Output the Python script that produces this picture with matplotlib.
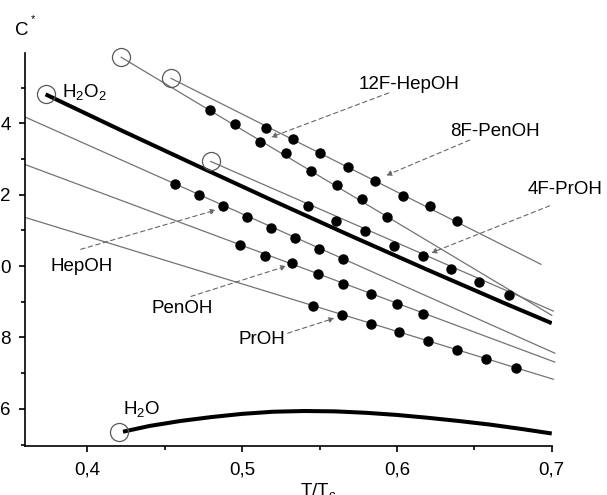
import matplotlib.pyplot as plt
from matplotlib.ticker import FixedLocator, FixedFormatter

plt.rcParams['font.family'] = 'Liberation Sans'
plt.rcParams['mathtext.fontset'] = 'custom'
plt.rcParams['mathtext.rm'] = 'Liberation Sans'
plt.rcParams['mathtext.it'] = 'Liberation Sans:italic'

# measured points (T/Tc, C*)
hep12_x = [0.4789, 0.4953, 0.5117, 0.5283, 0.5445, 0.5611, 0.5775, 0.5937]
hep12_y = [14.37, 13.97, 13.47, 13.16, 12.67, 12.26, 11.87, 11.38]
pen8_x = [0.5154, 0.5326, 0.5503, 0.5682, 0.5859, 0.6036, 0.6215, 0.6391]
pen8_y = [13.88, 13.57, 13.16, 12.77, 12.37, 11.97, 11.67, 11.27]
pr4_x = [0.5426, 0.5609, 0.5796, 0.5978, 0.6166, 0.6351, 0.6533, 0.6723]
pr4_y = [11.67, 11.27, 10.97, 10.56, 10.28, 9.91, 9.55, 9.20]
hep_x = [0.4565, 0.4719, 0.4877, 0.5032, 0.5189, 0.5344, 0.5499, 0.5654]
hep_y = [12.30, 12.00, 11.69, 11.38, 11.08, 10.79, 10.49, 10.19]
pen_x = [0.4984, 0.5149, 0.5324, 0.5489, 0.5654, 0.5829, 0.6001, 0.6171]
pen_y = [10.58, 10.28, 10.08, 9.78, 9.50, 9.22, 8.94, 8.67]
pr_x = [0.5459, 0.5644, 0.5829, 0.6016, 0.6203, 0.6391, 0.6578, 0.6766]
pr_y = [8.87, 8.63, 8.37, 8.14, 7.90, 7.65, 7.41, 7.15]

# straight-line fits, start and end
fit_x = {
    'hep12': [0.4218, 0.700],
    'pen8': [0.454, 0.693],
    'pr4': [0.4797, 0.701],
    'hep': [0.360, 0.702],
    'pen': [0.360, 0.702],
    'pr': [0.360, 0.701],
}
fit_y = {
    'hep12': [15.85, 8.62],
    'pen8': [15.26, 10.05],
    'pr4': [12.93, 8.74],
    'hep': [14.17, 7.56],
    'pen': [12.84, 7.31],
    'pr': [11.36, 6.83],
}

# critical points
crit_x = [0.373, 0.4218, 0.454, 0.4797, 0.4205]
crit_y = [14.81, 15.85, 15.26, 12.93, 5.34]

h2o2_x = [0.373, 0.42, 0.47, 0.52, 0.57, 0.62, 0.67, 0.70]
h2o2_y = [14.81, 13.84, 12.83, 11.83, 10.85, 9.89, 8.95, 8.40]
h2o_x = [0.423, 0.44, 0.46, 0.48, 0.50, 0.52, 0.54, 0.56, 0.58, 0.60,
         0.62, 0.64, 0.66, 0.68, 0.70]
h2o_y = [5.36, 5.52, 5.66, 5.77, 5.86, 5.92, 5.94, 5.93, 5.89, 5.83,
         5.75, 5.66, 5.56, 5.44, 5.31]

# label text, label position, arrow start, arrow tip
labels = ['12F-HepOH', '8F-PenOH', '4F-PrOH', 'HepOH', 'PenOH', 'PrOH']
label_x = [0.6080, 0.6633, 0.7083, 0.396, 0.461, 0.5127]
label_y = [15.10, 13.76, 12.14, 10.00, 8.80, 7.94]
arrow_from = [(0.5946, 14.85), (0.647, 13.53), (0.6987, 11.69),
              (0.3957, 10.47), (0.4669, 9.15), (0.5294, 8.12)]
arrow_to = [(0.5186, 13.61), (0.593, 12.54), (0.6221, 10.37),
            (0.483, 11.57), (0.5285, 10.0), (0.5596, 8.54)]

xticks = [0.4, 0.5, 0.6, 0.7]
xtick_labels = ['0,4', '0,5', '0,6', '0,7']
yticks = [6, 8, 10, 12, 14]
ytick_labels = ['6', '8', '0', '2', '4']

fig = plt.figure(figsize=(6.07, 4.95), dpi=100)
ax = fig.add_axes([0.042, 0.099, 0.867, 0.794])

for key in fit_x:
    ax.plot(fit_x[key], fit_y[key], color='0.45', lw=0.9, clip_on=False, zorder=2)

ax.plot(h2o2_x, h2o2_y, color='black', lw=2.9, solid_capstyle='butt', zorder=3)
ax.plot(h2o_x, h2o_y, color='black', lw=2.9, solid_capstyle='butt', zorder=3)

for xs, ys in [(hep12_x, hep12_y), (pen8_x, pen8_y), (pr4_x, pr4_y),
               (hep_x, hep_y), (pen_x, pen_y), (pr_x, pr_y)]:
    ax.plot(xs, ys, 'o', color='black', ms=6.5, zorder=4)

ax.plot(crit_x, crit_y, 'o', mfc='none', mec='0.35', mew=0.9, ms=13,
        clip_on=False, zorder=4)

for txt, lx, ly, a0, a1 in zip(labels, label_x, label_y, arrow_from, arrow_to):
    ax.text(lx, ly, txt, fontsize=13.5, ha='center', va='center')
    ax.annotate('', xy=a1, xytext=a0,
                arrowprops=dict(arrowstyle='-|>', ls=(0, (4, 3)), color='0.4',
                                lw=0.8, mutation_scale=8, shrinkA=0, shrinkB=0))

ax.text(0.3835, 14.74, r'H$_2$O$_2$', fontsize=13.5, ha='left', va='baseline')
ax.text(0.423, 5.86, r'H$_2$O', fontsize=13.5, ha='left', va='baseline')

ax.set_xlim(0.36, 0.70)
ax.set_ylim(4.96, 15.97)
ax.xaxis.set_major_locator(FixedLocator(xticks))
ax.xaxis.set_major_formatter(FixedFormatter(xtick_labels))
ax.xaxis.set_minor_locator(FixedLocator([0.45, 0.55, 0.65]))
ax.yaxis.set_major_locator(FixedLocator(yticks))
ax.yaxis.set_major_formatter(FixedFormatter(ytick_labels))
ax.yaxis.set_minor_locator(FixedLocator([5, 7, 9, 11, 13, 15]))
ax.tick_params(which='major', direction='out', length=4.5, width=1.2,
               labelsize=13.5)
ax.tick_params(which='minor', direction='out', length=3, width=1.2)
ax.tick_params(axis='x', pad=7)
ax.tick_params(axis='y', pad=6)

for side in ['top', 'right']:
    ax.spines[side].set_visible(False)
for side in ['left', 'bottom']:
    ax.spines[side].set_linewidth(1.2)

fig.text(0.0247, 0.929, 'C', fontsize=13.5, ha='left', va='baseline')
fig.text(0.051, 0.955, '*', fontsize=8, ha='left', va='baseline')
fig.text(0.494, -0.003, r'T/T$_\mathrm{c}$', fontsize=13.5, ha='left', va='baseline')

fig.savefig('out.png', dpi=100)
